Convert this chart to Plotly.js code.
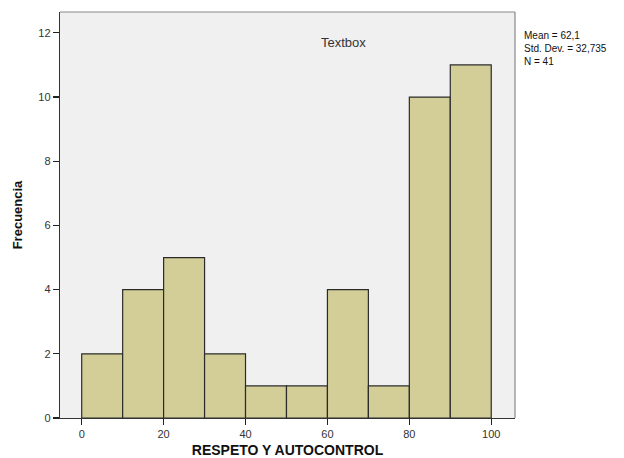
<!DOCTYPE html>
<html><head><meta charset="utf-8">
<script src="https://cdn.plot.ly/plotly-3.0.1.min.js"></script>
<style>html,body{margin:0;padding:0;background:#fff}</style>
</head><body>
<div id="chart" style="width:624px;height:458px"></div>
<script>
const binStarts = [0, 10, 20, 30, 40, 50, 60, 70, 80, 90];
const binWidth = 10;
const frequencies = [2, 4, 5, 2, 1, 1, 4, 1, 10, 11];
const xTicks = [0, 20, 40, 60, 80, 100];
const yTicks = [0, 2, 4, 6, 8, 10, 12];
const statsLines = ["Mean = 62,1", "Std. Dev. = 32,735", "N = 41"];

const trace = {
  type: 'bar',
  x: binStarts.map(s => s + binWidth / 2),
  y: frequencies,
  width: binStarts.map(() => binWidth),
  marker: {color: '#d3ce98', line: {color: '#2b2b2b', width: 1.2}},
  hoverinfo: 'skip'
};
const font = {family: 'Liberation Sans, Arial, sans-serif', color: '#222'};
const layout = {
  width: 624, height: 458,
  margin: {l: 60, r: 109, t: 12, b: 40},
  paper_bgcolor: '#ffffff',
  plot_bgcolor: '#f0f0f0',
  showlegend: false,
  bargap: 0,
  font: font,
  xaxis: {
    range: [-5.3, 105.8], tickvals: xTicks, ticktext: xTicks.map(String),
    ticks: 'outside', ticklen: 6, tickcolor: '#222', tickwidth: 1.2,
    showgrid: false, zeroline: false, showline: true, linecolor: '#333', linewidth: 1.2,
    mirror: false, tickfont: {size: 11, color: '#333'},
    title: {text: '<b>RESPETO Y AUTOCONTROL</b>', font: {size: 14, color: '#111'}, standoff: 12}
  },
  yaxis: {
    range: [0, 12.65], tickvals: yTicks, ticktext: yTicks.map(String),
    ticks: 'outside', ticklen: 6, tickcolor: '#222', tickwidth: 1.2,
    showgrid: false, zeroline: false, showline: true, linecolor: '#333', linewidth: 1.2,
    tickfont: {size: 11, color: '#333'},
    title: {text: '<b>Frecuencia</b>', font: {size: 13, color: '#111'}, standoff: 12}
  },
  shapes: [
    {type: 'line', xref: 'paper', yref: 'paper', x0: 0, x1: 1, y0: 1, y1: 1, line: {color: '#888', width: 1.2}},
    {type: 'line', xref: 'paper', yref: 'paper', x0: 1, x1: 1, y0: 0, y1: 1, line: {color: '#888', width: 1.2}}
  ],
  annotations: [
    {text: 'Textbox', xref: 'paper', yref: 'paper', x: 0.622, y: 0.924, showarrow: false,
     xanchor: 'center', yanchor: 'middle', font: {size: 13, color: '#333'}},
    {text: statsLines.join('<br>'), xref: 'paper', yref: 'paper', x: 1.016, y: 0.96, showarrow: false,
     xanchor: 'left', yanchor: 'top', align: 'left', font: {size: 10, color: '#111'}}
  ]
};
Plotly.newPlot('chart', [trace], layout, {displayModeBar: false, staticPlot: true});
</script>
</body></html>
